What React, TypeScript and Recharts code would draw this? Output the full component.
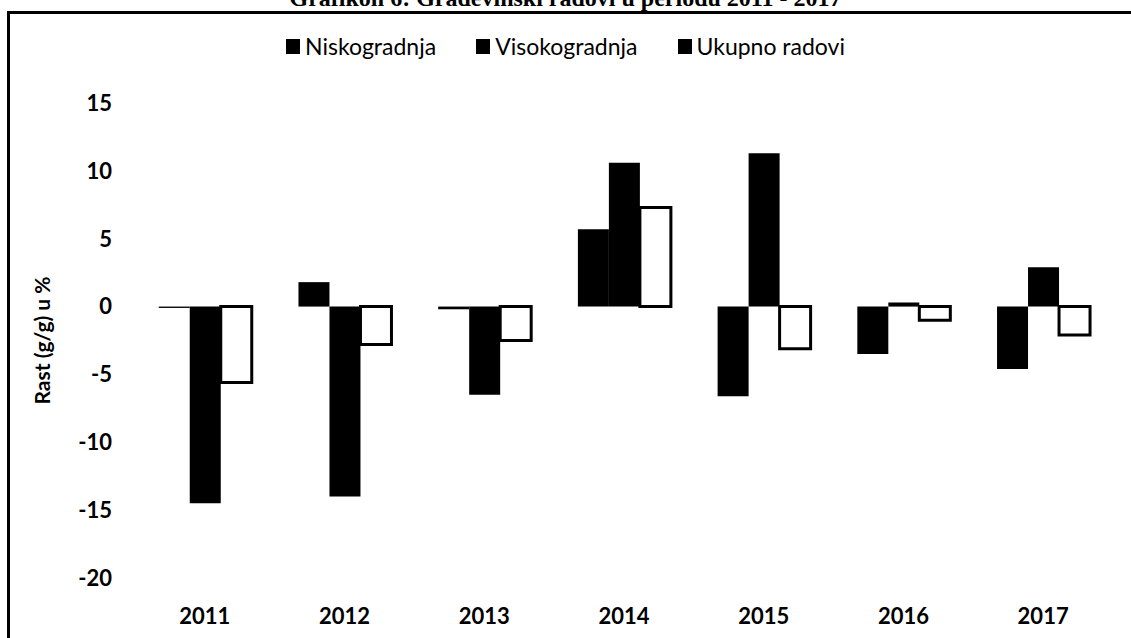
import { BarChart, Bar, XAxis, YAxis } from 'recharts'

const years = ['2011', '2012', '2013', '2014', '2015', '2016', '2017']
const niskogradnja = [-0.1, 1.8, -0.2, 5.7, -6.6, -3.5, -4.6]
const visokogradnja = [-14.5, -14.0, -6.5, 10.6, 11.3, 0.3, 2.9]
const ukupnoRadovi = [-5.6, -2.8, -2.5, 7.3, -3.1, -1.0, -2.1]
const yTicks = [-20, -15, -10, -5, 0, 5, 10, 15]

const legendItems = ['Niskogradnja', 'Visokogradnja', 'Ukupno radovi']

const data = years.map((year, i) => ({
  year,
  nisko: niskogradnja[i],
  visoko: visokogradnja[i],
  ukupno: ukupnoRadovi[i],
}))

const FONT = 'Lato, "Open Sans", sans-serif'
const TICK = { fontSize: 22, fontWeight: 700, fill: '#000', fontFamily: FONT }

export default function App() {
  return (
    <div
      style={{
        position: 'fixed', left: 0, top: 0, width: 1131, height: 638,
        overflow: 'hidden', background: '#fff',
      }}
    >
      {/* scanned title, mostly cut off by the top of the page */}
      <div
        style={{
          position: 'absolute', left: 0, top: -14, width: 1131,
          textAlign: 'center', fontFamily: '"Liberation Serif", serif',
          fontWeight: 700, fontSize: 24, lineHeight: '24px',
        }}
      >
        Grafikon 6: Građevinski radovi u periodu 2011 - 2017
      </div>

      {/* frame */}
      <div
        style={{
          position: 'absolute', left: 7, top: 11, width: 1300, height: 800,
          borderLeft: '3px solid #000', borderTop: '3px solid #000',
        }}
      />

      {/* legend */}
      <div
        style={{
          position: 'absolute', left: 0, top: 32, width: 1131,
          display: 'flex', justifyContent: 'center', gap: 40,
          fontFamily: FONT, fontSize: 23, lineHeight: '28px', color: '#000',
        }}
      >
        {legendItems.map((name) => (
          <span key={name} style={{ display: 'flex', alignItems: 'center' }}>
            <span style={{ width: 14, height: 15, background: '#000', marginRight: 5 }} />
            {name}
          </span>
        ))}
      </div>

      <div style={{ position: 'absolute', left: 0, top: 0 }}>
        <BarChart
          width={1131}
          height={638}
          data={data}
          margin={{ top: 103, right: 18, left: 35, bottom: 20 }}
          barGap={0}
          barCategoryGap="17%"
        >
          <XAxis
            dataKey="year"
            axisLine={false}
            tickLine={false}
            tickMargin={24}
            height={40}
            tick={TICK}
          />
          <YAxis
            domain={[-20, 15]}
            ticks={yTicks}
            width={100}
            axisLine={false}
            tickLine={false}
            tickMargin={17}
            tick={TICK}
            label={{
              value: 'Rast (g/g) u %',
              angle: -90,
              position: 'insideLeft',
              offset: 8,
              style: { fontSize: 21, fontWeight: 700, fill: '#000', fontFamily: FONT, textAnchor: 'middle' },
            }}
          />
          <Bar dataKey="nisko" name="Niskogradnja" fill="#000" isAnimationActive={false} />
          <Bar dataKey="visoko" name="Visokogradnja" fill="#000" isAnimationActive={false} />
          <Bar
            dataKey="ukupno"
            name="Ukupno radovi"
            fill="#fff"
            stroke="#000"
            strokeWidth={3}
            isAnimationActive={false}
          />
        </BarChart>
      </div>
    </div>
  )
}
